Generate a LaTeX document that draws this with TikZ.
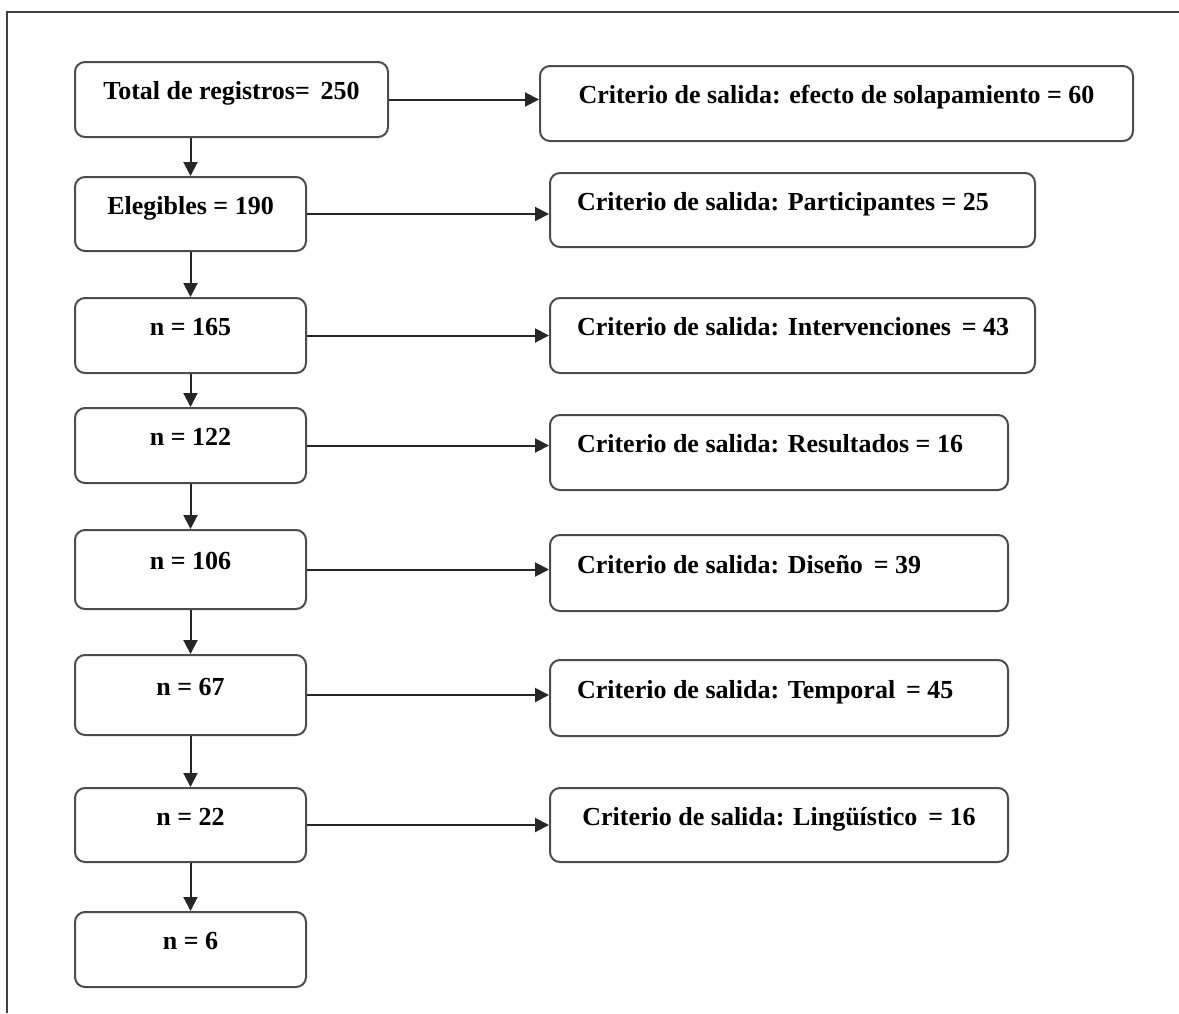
\documentclass[tikz,border=0pt]{standalone}
\usepackage{fontspec}
\setmainfont{Liberation Serif}
\usetikzlibrary{arrows.meta}

\begin{document}
\begin{tikzpicture}[x=0.5pt,y=-0.5pt,
    caja/.style={draw=black!70,line width=1pt,rounded corners=5pt,fill=white,inner sep=0pt,
        font=\fontsize{13}{15}\selectfont\bfseries,text height=9pt,text depth=9pt},
    criterio/.style={caja,align=flush left,inner xsep=13.5pt},
    flecha/.style={-{Triangle[length=7pt,width=7pt]},line width=1pt,black!85}]
    \useasboundingbox (0,0) rectangle (1179,1013);
    % marco
    \draw[line width=1pt,black!75] (1179,12) -- (7,12) -- (7,1013);

    % columna izquierda
    \node[caja,minimum width=156.5pt,minimum height=37.5pt] (total) at (231.5,99.5) {Total de registros= \,250};
    \node[caja,minimum width=115.5pt,minimum height=37pt] (eleg) at (190.5,214) {Elegibles = 190};
    \node[caja,minimum width=115.5pt,minimum height=37.5pt] (n165) at (190.5,335.5) {n = 165};
    \node[caja,minimum width=115.5pt,minimum height=37.5pt] (n122) at (190.5,445.5) {n = 122};
    \node[caja,minimum width=115.5pt,minimum height=39.5pt] (n106) at (190.5,569.5) {n = 106};
    \node[caja,minimum width=115.5pt,minimum height=40pt] (n67) at (190.5,695) {n = 67};
    \node[caja,minimum width=115.5pt,minimum height=37pt] (n22) at (190.5,825) {n = 22};
    \node[caja,minimum width=115.5pt,minimum height=37.5pt] (n6) at (190.5,949.5) {n = 6};

    % criterios de salida
    \node[caja,minimum width=296.5pt,minimum height=37.5pt] (solap) at (836.5,103.5) {Criterio de salida: efecto de solapamiento = 60};
    \node[criterio,text width=215.5pt,minimum height=37pt] (partic) at (792.5,210) {\mbox{Criterio de salida: Participantes = 25}};
    \node[criterio,text width=215.5pt,minimum height=37.5pt] (interv) at (792.5,335.5) {\mbox{Criterio de salida: Intervenciones \,= 43}};
    \node[criterio,text width=202pt,minimum height=37.5pt] (result) at (779,452.5) {\mbox{Criterio de salida: Resultados = 16}};
    \node[criterio,text width=202pt,minimum height=38pt] (diseno) at (779,573) {\mbox{Criterio de salida: Diseño \,= 39}};
    \node[criterio,text width=202pt,minimum height=38pt] (tempo) at (779,698) {\mbox{Criterio de salida: Temporal \,= 45}};
    \node[caja,minimum width=229pt,minimum height=37pt] (lingu) at (779,825) {Criterio de salida: Lingüístico \,= 16};

    % flechas verticales
    \draw[flecha] (total.south -| eleg.north) -- (eleg.north);
    \draw[flecha] (eleg.south) -- (n165.north);
    \draw[flecha] (n165.south) -- (n122.north);
    \draw[flecha] (n122.south) -- (n106.north);
    \draw[flecha] (n106.south) -- (n67.north);
    \draw[flecha] (n67.south) -- (n22.north);
    \draw[flecha] (n22.south) -- (n6.north);

    % flechas horizontales
    \draw[flecha] (total.east) -- (total.east -| solap.west);
    \draw[flecha] (eleg.east) -- (eleg.east -| partic.west);
    \draw[flecha] (n165.east) -- (n165.east -| interv.west);
    \draw[flecha] (n122.east) -- (n122.east -| result.west);
    \draw[flecha] (n106.east) -- (n106.east -| diseno.west);
    \draw[flecha] (n67.east) -- (n67.east -| tempo.west);
    \draw[flecha] (n22.east) -- (n22.east -| lingu.west);
\end{tikzpicture}
\end{document}
